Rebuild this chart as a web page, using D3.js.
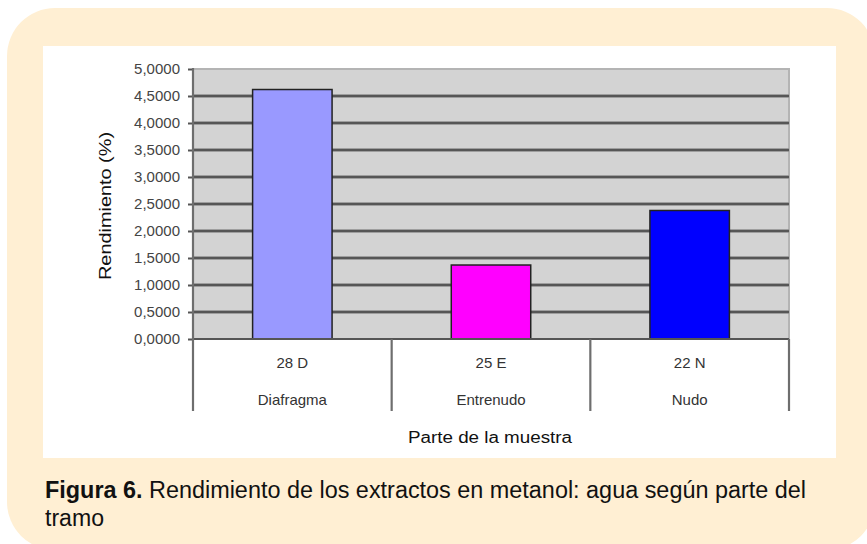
<!DOCTYPE html>
<html>
<head>
<meta charset="utf-8" />
<title>Rendimiento de los extractos</title>
<script src="https://cdn.jsdelivr.net/npm/d3@7"></script>
<style>
    html, body { margin: 0; padding: 0; background: #ffffff; }
    svg { display: block; font-family: "Liberation Sans", Arial, sans-serif; }
</style>
</head>
<body>
<svg id="chart" width="867" height="544"></svg>
<script>
// data
var codes = ["28 D", "25 E", "22 N"];
var parts = ["Diafragma", "Entrenudo", "Nudo"];
var rendimiento = [4.62, 1.37, 2.38];
var barColors = ["#9999ff", "#ff00ff", "#0000ff"];
var yTicks = [0, 0.5, 1, 1.5, 2, 2.5, 3, 3.5, 4, 4.5, 5];

var svg = d3.select("#chart");

// cream card + white chart panel
svg.append("rect")
    .attr("x", 7).attr("y", 8)
    .attr("width", 868).attr("height", 542)
    .attr("rx", 48)
    .attr("fill", "#ffefd3");
svg.append("rect")
    .attr("x", 43).attr("y", 46)
    .attr("width", 793).attr("height", 412)
    .attr("fill", "#ffffff");

var plot = {left: 193, right: 789, top: 69, bottom: 339, tableBottom: 411};

var x = d3.scaleBand()
    .domain(codes)
    .range([plot.left, plot.right])
    .paddingInner(0.6)
    .paddingOuter(0.3);
var y = d3.scaleLinear()
    .domain([0, 5])
    .range([plot.bottom, plot.top]);

var fmt = function(v) { return d3.format(".4f")(v).replace(".", ","); };

// plot background
svg.append("rect")
    .attr("x", plot.left).attr("y", plot.top)
    .attr("width", plot.right - plot.left)
    .attr("height", plot.bottom - plot.top)
    .attr("fill", "#d3d3d3");

// top and right border
svg.append("path")
    .attr("d", "M" + plot.left + "," + plot.top + "H" + plot.right + "V" + plot.bottom)
    .attr("fill", "none")
    .attr("stroke", "#b4b4b4")
    .attr("stroke-width", 2);

// gridlines
var grid = svg.append("g");
var gridVals = yTicks.filter(function(v) { return v > 0 && v < 5; });
grid.selectAll("line.halo").data(gridVals).enter().append("line")
    .attr("class", "halo")
    .attr("x1", plot.left).attr("x2", plot.right)
    .attr("y1", function(d) { return y(d); })
    .attr("y2", function(d) { return y(d); })
    .attr("stroke", "#8c8c8c")
    .attr("stroke-width", 3.5);
grid.selectAll("line.core").data(gridVals).enter().append("line")
    .attr("class", "core")
    .attr("x1", plot.left).attr("x2", plot.right)
    .attr("y1", function(d) { return y(d); })
    .attr("y2", function(d) { return y(d); })
    .attr("stroke", "#454545")
    .attr("stroke-width", 1.6);

// bars
svg.append("g").selectAll("rect")
    .data(codes).enter().append("rect")
    .attr("x", function(d) { return x(d); })
    .attr("y", function(d, i) { return y(rendimiento[i]); })
    .attr("width", x.bandwidth())
    .attr("height", function(d, i) { return y(0) - y(rendimiento[i]); })
    .attr("fill", function(d, i) { return barColors[i]; })
    .attr("stroke", "#222")
    .attr("stroke-width", 1.5);

// x baseline
svg.append("line")
    .attr("x1", plot.left).attr("x2", plot.right)
    .attr("y1", y(0)).attr("y2", y(0))
    .attr("stroke", "#555").attr("stroke-width", 2);

// y axis
var yAxis = svg.append("g")
    .attr("transform", "translate(" + plot.left + ",0)")
    .call(d3.axisLeft(y).tickValues(yTicks).tickFormat(fmt).tickSize(5).tickPadding(8));
yAxis.select(".domain").remove();
yAxis.selectAll(".tick line").attr("stroke", "#555").attr("stroke-width", 2);
yAxis.selectAll(".tick text")
    .attr("fill", "#444")
    .style("font-size", "15px")
    .style("font-family", "'Liberation Sans', Arial, sans-serif");
svg.append("line")
    .attr("x1", plot.left).attr("x2", plot.left)
    .attr("y1", plot.top - 1).attr("y2", plot.tableBottom)
    .attr("stroke", "#6e6e6e").attr("stroke-width", 2.2);

// category table dividers
var step = x.step();
var dividers = codes.map(function(d) { return x(d) + x.bandwidth() / 2 + step / 2; });
svg.append("g").selectAll("line")
    .data(dividers).enter().append("line")
    .attr("x1", function(d) { return d; })
    .attr("x2", function(d) { return d; })
    .attr("y1", plot.bottom).attr("y2", plot.tableBottom)
    .attr("stroke", "#6e6e6e").attr("stroke-width", 2.2);

// category labels, two rows
var labels = svg.append("g")
    .attr("fill", "#333")
    .style("font-size", "15px")
    .attr("text-anchor", "middle");
labels.selectAll("text.code").data(codes).enter().append("text")
    .attr("class", "code")
    .attr("x", function(d) { return x(d) + x.bandwidth() / 2; })
    .attr("y", 368)
    .text(function(d) { return d; });
labels.selectAll("text.part").data(parts).enter().append("text")
    .attr("class", "part")
    .attr("x", function(d, i) { return x(codes[i]) + x.bandwidth() / 2; })
    .attr("y", 405)
    .text(function(d) { return d; });

// axis titles
svg.append("text")
    .attr("x", 490).attr("y", 443)
    .attr("text-anchor", "middle")
    .attr("fill", "#111")
    .style("font-size", "16px")
    .attr("textLength", 164)
    .attr("lengthAdjust", "spacingAndGlyphs")
    .text("Parte de la muestra");
svg.append("text")
    .attr("transform", "translate(111,206) rotate(-90)")
    .attr("text-anchor", "middle")
    .attr("fill", "#111")
    .style("font-size", "17px")
    .attr("textLength", 148)
    .attr("lengthAdjust", "spacingAndGlyphs")
    .text("Rendimiento (%)");

// caption
var cap = svg.append("text")
    .attr("x", 45).attr("y", 498)
    .attr("fill", "#111")
    .style("font-size", "23px")
    .attr("textLength", 761)
    .attr("lengthAdjust", "spacingAndGlyphs");
cap.append("tspan").style("font-weight", "bold").text("Figura 6.");
cap.append("tspan").text(" Rendimiento de los extractos en metanol: agua según parte del");
svg.append("text")
    .attr("x", 45).attr("y", 526)
    .attr("fill", "#111")
    .style("font-size", "23px")
    .attr("textLength", 59)
    .attr("lengthAdjust", "spacingAndGlyphs")
    .text("tramo");
</script>
</body>
</html>
